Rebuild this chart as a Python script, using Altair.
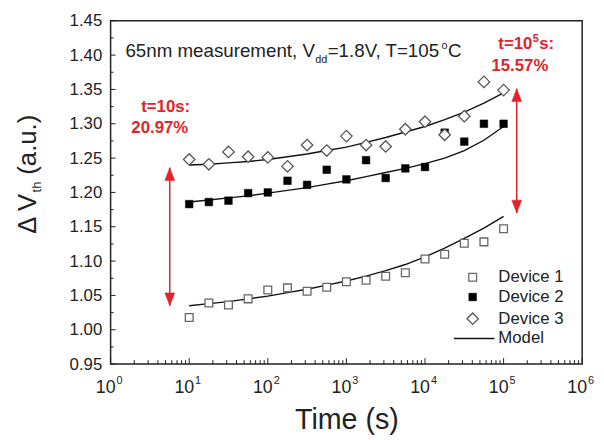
import altair as alt
import pandas as pd

# ---------------- data ----------------
times = [10, 17.8, 31.6, 56.2, 100, 178, 316, 562, 1000, 1780, 3160, 5620,
         10000, 17800, 31600, 56200, 100000]
device1 = [1.018, 1.039, 1.036, 1.045, 1.058, 1.061, 1.056, 1.062, 1.070, 1.072,
           1.078, 1.083, 1.103, 1.110, 1.126, 1.128, 1.147]
device2 = [1.183, 1.186, 1.188, 1.199, 1.200, 1.217, 1.211, 1.233, 1.219, 1.247,
           1.221, 1.235, 1.237, 1.287, 1.274, 1.300, 1.300]
device3 = [1.248, 1.241, 1.259, 1.252, 1.251, 1.238, 1.269, 1.261, 1.282, 1.269,
           1.267, 1.292, 1.303, 1.284, 1.311, 1.361, 1.349]
model1 = [1.035, 1.038, 1.041, 1.045, 1.049, 1.054, 1.059, 1.065, 1.071, 1.078,
          1.086, 1.095, 1.106, 1.119, 1.133, 1.148, 1.165]
model2 = [1.186, 1.189, 1.192, 1.195, 1.199, 1.203, 1.207, 1.212, 1.217, 1.223,
          1.229, 1.235, 1.242, 1.250, 1.261, 1.276, 1.296]
model3 = [1.240, 1.241, 1.243, 1.245, 1.248, 1.252, 1.256, 1.261, 1.266, 1.273,
          1.280, 1.288, 1.296, 1.306, 1.317, 1.330, 1.345]

y_major = [0.95, 1.00, 1.05, 1.10, 1.15, 1.20, 1.25, 1.30, 1.35, 1.40, 1.45]
y_minor = [0.975, 1.025, 1.075, 1.125, 1.175, 1.225, 1.275, 1.325, 1.375, 1.425]
x_decades = [1, 10, 100, 1000, 10000, 100000, 1000000]
x_exponents = ["0", "1", "2", "3", "4", "5", "6"]
x_minor = [d * m for d in x_decades[:-1] for m in range(2, 10)]

arrow_time = [5.66, 147000]
arrow_low = [1.035, 1.170]
arrow_high = [1.236, 1.351]

legend_labels = ["Device 1", "Device 2", "Device 3", "Model"]

# ---------------- styling ----------------
FONT = "Liberation Sans"
W, H = 478, 348
RED = "#e3232a"
INK = "#222222"

xscale = alt.Scale(type="log", domain=[1, 1e6], nice=False)
yscale = alt.Scale(domain=[0.95, 1.45], nice=False, zero=False)

AX_X = alt.Axis(labels=False, ticks=False, domain=False, grid=False,
                title="Time (s)", titleFont=FONT, titleFontSize=29,
                titleFontWeight="normal", titleColor=INK, titlePadding=42)
AX_Y = alt.Axis(values=y_major, format=".2f", ticks=False, domain=False,
                grid=False, labelFont=FONT, labelFontSize=17,
                labelColor=INK, labelPadding=9, title=None)

df = pd.DataFrame({"time": times, "d1": device1, "d2": device2, "d3": device3,
                   "m1": model1, "m2": model2, "m3": model3})
models = df.melt(id_vars="time", value_vars=["m1", "m2", "m3"],
                 var_name="model", value_name="v")


def X(field):
    return alt.X(field, scale=xscale, axis=AX_X, title="Time (s)")


def Y(field):
    return alt.Y(field, scale=yscale, axis=AX_Y, title=None)


lines = alt.Chart(models).mark_line(color="#111", strokeWidth=1.4).encode(
    x=X("time:Q"), y=Y("v:Q"), detail="model:N")

p1 = alt.Chart(df).mark_point(shape="square", size=62, fill="white", stroke="#666",
                              strokeWidth=1.3, opacity=1, fillOpacity=1).encode(
    x=X("time:Q"), y=Y("d1:Q"))
p2 = alt.Chart(df).mark_point(shape="square", size=60, fill="black", stroke="black",
                              strokeWidth=0.5, opacity=1, fillOpacity=1).encode(
    x=X("time:Q"), y=Y("d2:Q"))
p3 = alt.Chart(df).mark_point(shape="diamond", size=135, fill="white", stroke="#555",
                              strokeWidth=1.3, opacity=1, fillOpacity=1).encode(
    x=X("time:Q"), y=Y("d3:Q"))

# inward ticks
ymaj = alt.Chart(pd.DataFrame({"v": y_major})).mark_rule(color=INK, strokeWidth=1).encode(
    y=Y("v:Q"), x=alt.value(0), x2=alt.value(5))
ymin = alt.Chart(pd.DataFrame({"v": y_minor})).mark_rule(color=INK, strokeWidth=1).encode(
    y=Y("v:Q"), x=alt.value(0), x2=alt.value(3))
xmaj = alt.Chart(pd.DataFrame({"time": x_decades})).mark_rule(color=INK, strokeWidth=1).encode(
    x=X("time:Q"), y=alt.value(H), y2=alt.value(H - 6))
xmin = alt.Chart(pd.DataFrame({"time": x_minor})).mark_rule(color=INK, strokeWidth=1).encode(
    x=X("time:Q"), y=alt.value(H), y2=alt.value(H - 4))

# x tick labels 10^n
xdf = pd.DataFrame({"time": x_decades, "e": x_exponents})
xlab_base = alt.Chart(xdf).mark_text(text="10", font=FONT, fontSize=18, color=INK,
                                     align="right", baseline="alphabetic", dx=5).encode(
    x=X("time:Q"), y=alt.value(H + 29))
xlab_exp = alt.Chart(xdf).mark_text(font=FONT, fontSize=11, color=INK,
                                    align="left", baseline="alphabetic", dx=6).encode(
    x=X("time:Q"), y=alt.value(H + 20), text="e:N")

# red arrows
adf = pd.DataFrame({"time": arrow_time, "lo": arrow_low, "hi": arrow_high})
arrow_rule = alt.Chart(adf).mark_rule(color=RED, strokeWidth=1.5).encode(
    x=X("time:Q"), y=Y("lo:Q"), y2=alt.Y2("hi:Q"))
arrow_up = alt.Chart(adf).mark_point(shape="M0,0L0.77,2L-0.77,2Z", size=169, fill=RED,
                                     stroke=RED, strokeWidth=0.5, opacity=1, filled=True).encode(
    x=X("time:Q"), y=Y("hi:Q"))
arrow_dn = alt.Chart(adf).mark_point(shape="M0,0L0.77,-2L-0.77,-2Z", size=169, fill=RED,
                                     stroke=RED, strokeWidth=0.5, opacity=1, filled=True).encode(
    x=X("time:Q"), y=Y("lo:Q"))

one = pd.DataFrame({"k": [0]})


def label(txt, x, y, size, color=INK, weight="normal", align="left",
          baseline="alphabetic", angle=0):
    return alt.Chart(one).mark_text(text=txt, font=FONT, fontSize=size, color=color,
                                    fontWeight=weight, align=align, baseline=baseline,
                                    angle=angle).encode(x=alt.value(x), y=alt.value(y))


texts = [
    # annotation line
    label("65nm measurement, V", 15, 37, 19),
    label("dd", 207.5, 43, 11),
    label("=1.8V, T=105", 220, 37, 19),
    label("o", 335.5, 29, 11),
    label("C", 342, 37, 19),
    # red labels
    label("t=10s:", 31, 92, 17, RED, "bold"),
    label("20.97%", 21, 114, 17, RED, "bold"),
    label("t=10", 393, 29, 17, RED, "bold"),
    label("5", 428, 22, 11, RED, "bold"),
    label("s:", 434.5, 29, 17, RED, "bold"),
    label("15.57%", 386, 51, 17, RED, "bold"),
    # y-axis title
    label("\u0394 V", -76, 216, 26, angle=270),
    label("th", -71, 174, 13, angle=270),
    label("(a.u.)", -76, 156, 26, angle=270),
]

# legend
leg = []
leg_y = [260, 280, 302, 322]
leg.append(alt.Chart(one).mark_point(shape="square", size=62, fill="white", stroke="#666",
                                     strokeWidth=1.3, opacity=1).encode(
    x=alt.value(367), y=alt.value(leg_y[0])))
leg.append(alt.Chart(one).mark_point(shape="square", size=60, fill="black", stroke="black",
                                     strokeWidth=0.5, opacity=1).encode(
    x=alt.value(367), y=alt.value(leg_y[1])))
leg.append(alt.Chart(one).mark_point(shape="diamond", size=135, fill="white", stroke="#555",
                                     strokeWidth=1.3, opacity=1).encode(
    x=alt.value(367), y=alt.value(leg_y[2])))
leg.append(alt.Chart(one).mark_rule(color="#111", strokeWidth=1.4).encode(
    x=alt.value(348), x2=alt.value(389), y=alt.value(leg_y[3])))
for lab, yy in zip(legend_labels, leg_y):
    leg.append(label(lab, 393, yy, 17, baseline="middle"))

chart = alt.layer(
    lines, ymaj, ymin, xmaj, xmin, p1, p2, p3, arrow_rule, arrow_up, arrow_dn,
    xlab_base, xlab_exp, *texts, *leg
).properties(
    width=W, height=H,
    background="white",
    autosize=alt.AutoSizeParams(type="none"),
    padding={"left": 104, "top": 10, "right": 14, "bottom": 74},
).configure_view(
    stroke="#222", strokeWidth=1.5
)

chart.save("out.html", embed_options={"renderer": "svg", "actions": False})
